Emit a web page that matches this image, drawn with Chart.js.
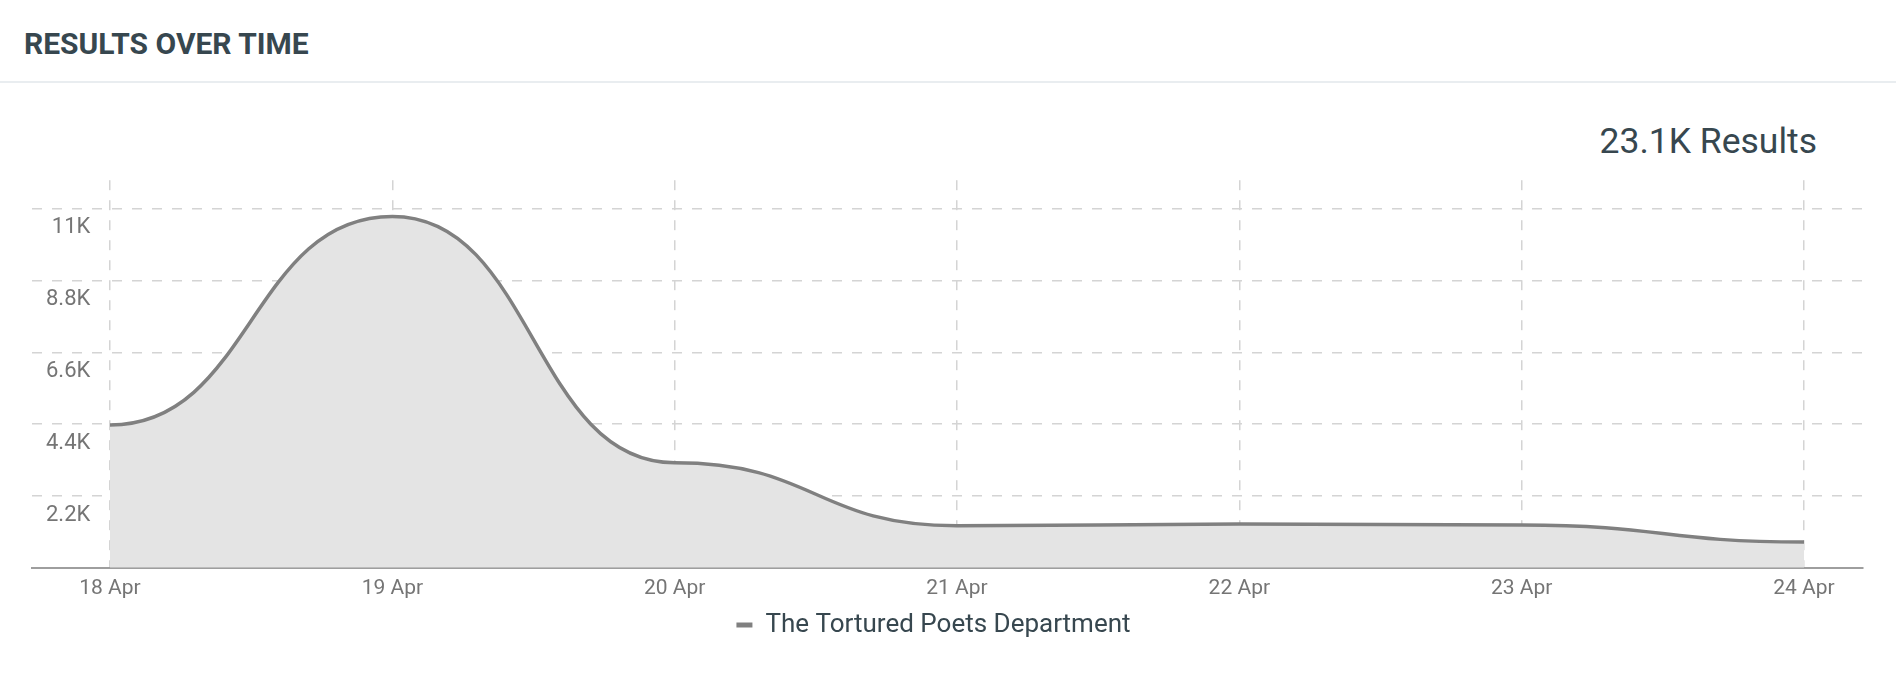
<!DOCTYPE html>
<html>
<head>
<meta charset="utf-8">
<script src="https://cdn.jsdelivr.net/npm/chart.js@4.4.1/dist/chart.umd.min.js"></script>
<style>
  html, body { margin: 0; padding: 0; background: #ffffff; }
  body { width: 1896px; height: 696px; position: relative; overflow: hidden; font-family: Roboto, sans-serif; }
  #title { position: absolute; left: 24px; top: 26px; font-size: 30px; font-weight: 700; color: #37474f; line-height: 36px; white-space: nowrap; }
  #sep { position: absolute; left: 0; top: 81px; width: 1896px; height: 2px; background: #e9edf0; }
  #total { position: absolute; right: 79px; top: 121px; font-size: 35.5px; color: #37474f; line-height: 40px; white-space: nowrap; }
  #wrap { position: absolute; left: 0; top: 153px; width: 1896px; height: 536px; }
</style>
</head>
<body>
<div id="title">RESULTS OVER TIME</div>
<div id="sep"></div>
<div id="total"></div>
<div id="wrap"><canvas id="chart"></canvas></div>
<script>
const categories = ['18 Apr', '19 Apr', '20 Apr', '21 Apr', '22 Apr', '23 Apr', '24 Apr'];
const seriesName = 'The Tortured Poets Department';
const seriesValues = [4380, 10770, 3220, 1290, 1340, 1310, 790];
const yTickValues = [0, 2200, 4400, 6600, 8800, 11000];
const yTickLabels = ['', '2.2K', '4.4K', '6.6K', '8.8K', '11K'];

const total = seriesValues.reduce((a, b) => a + b, 0);
document.getElementById('total').textContent = (total / 1000).toFixed(1) + 'K Results';

Chart.defaults.font.family = 'Roboto';

// Smooth curve with horizontal handles at every point (bump style)
const bumpCurve = {
  id: 'bumpCurve',
  afterDatasetsUpdate(chart) {
    chart.getSortedVisibleDatasetMetas().forEach(meta => {
      const line = meta.dataset;
      const pts = meta.data;
      if (!line || pts.length < 2) return;
      line.updateControlPoints(chart.chartArea, meta.iScale.axis);
      for (let i = 0; i < pts.length; i++) {
        const p = pts[i];
        const prev = pts[i - 1] || p;
        const next = pts[i + 1] || p;
        p.cp1x = p.x - (p.x - prev.x) / 2; p.cp1y = p.y;
        p.cp2x = p.x + (next.x - p.x) / 2; p.cp2y = p.y;
      }
    });
  }
};

new Chart(document.getElementById('chart'), {
  type: 'line',
  data: {
    datasets: [{
      label: seriesName,
      data: seriesValues.map((v, i) => ({ x: i, y: v })),
      borderColor: '#808080',
      backgroundColor: '#e4e4e4',
      borderWidth: 3.5,
      fill: 'origin',
      tension: 0.4,
      pointRadius: 0,
      pointHoverRadius: 0
    }]
  },
  options: {
    responsive: true,
    maintainAspectRatio: false,
    animation: false,
    layout: { padding: { left: 4, right: 33, top: 20, bottom: 41 } },
    scales: {
      x: {
        type: 'linear',
        min: -0.2763,
        max: 6.209,
        afterBuildTicks: s => { s.ticks = categories.map((c, i) => ({ value: i })); },
        ticks: {
          callback: (v, i) => categories[i],
          color: '#757575',
          font: { size: 21 },
          padding: 8,
          maxRotation: 0,
          autoSkip: false
        },
        grid: { color: '#d4d4d4', lineWidth: 1.5, drawTicks: false },
        border: { display: true, color: '#9e9e9e', width: 2, dash: [10, 10] }
      },
      y: {
        min: 0,
        max: 11880,
        afterBuildTicks: s => { s.ticks = yTickValues.map(v => ({ value: v })); },
        ticks: {
          mirror: true,
          crossAlign: 'far',
          padding: 14,
          labelOffset: 19,
          color: '#757575',
          font: { size: 22 },
          callback: (v, i) => yTickLabels[i]
        },
        grid: { color: '#d4d4d4', lineWidth: 1.5, drawTicks: false },
        border: { display: false, dash: [10, 10] }
      }
    },
    plugins: {
      tooltip: { enabled: false },
      legend: {
        position: 'bottom',
        labels: {
          color: '#37474f',
          font: { size: 26 },
          boxWidth: 16,
          boxHeight: 5,
          padding: 3,
          generateLabels: c => c.data.datasets.map((ds, i) => ({
            text: ds.label, fillStyle: ds.borderColor, strokeStyle: ds.borderColor,
            lineWidth: 0, hidden: false, datasetIndex: i, fontColor: '#37474f'
          }))
        }
      }
    }
  },
  plugins: [bumpCurve]
});
</script>
</body>
</html>
